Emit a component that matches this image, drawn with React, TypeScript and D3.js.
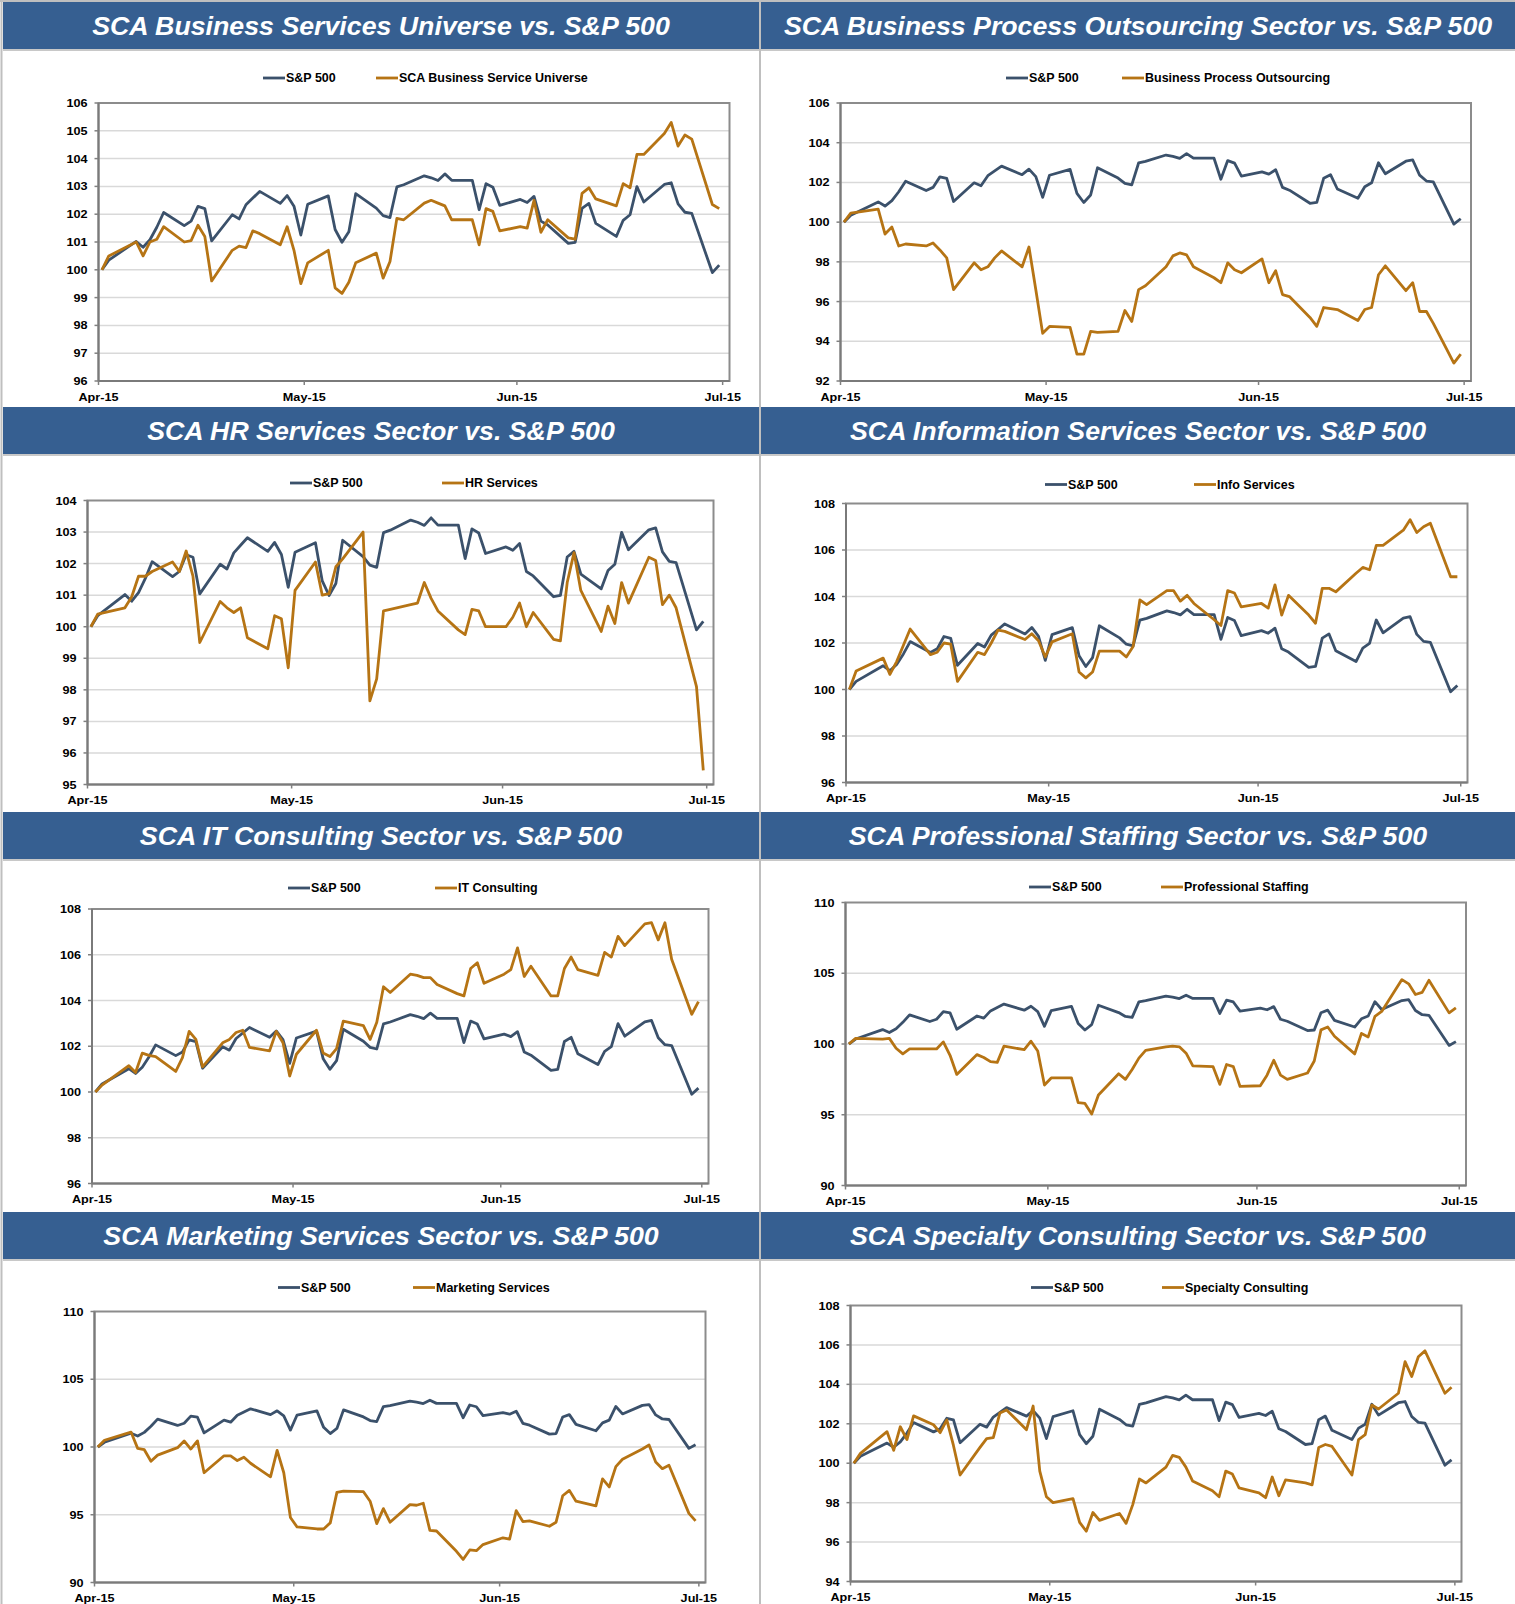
import React from 'react'
import * as d3 from 'd3'

// trading days, Q2 2015 (Memorial Day carried forward)
const DATES = [
  '2015-04-01', '2015-04-02', '2015-04-06', '2015-04-07', '2015-04-08', '2015-04-09', '2015-04-10',
  '2015-04-13', '2015-04-14', '2015-04-15', '2015-04-16', '2015-04-17', '2015-04-20', '2015-04-21', '2015-04-22',
  '2015-04-23', '2015-04-24', '2015-04-27', '2015-04-28', '2015-04-29', '2015-04-30',
  '2015-05-01', '2015-05-04', '2015-05-05', '2015-05-06', '2015-05-07', '2015-05-08', '2015-05-11', '2015-05-12',
  '2015-05-13', '2015-05-14', '2015-05-15', '2015-05-18', '2015-05-19', '2015-05-20', '2015-05-21', '2015-05-22',
  '2015-05-25', '2015-05-26', '2015-05-27', '2015-05-28', '2015-05-29',
  '2015-06-01', '2015-06-02', '2015-06-03', '2015-06-04', '2015-06-05', '2015-06-08', '2015-06-09', '2015-06-10',
  '2015-06-11', '2015-06-12', '2015-06-15', '2015-06-16', '2015-06-17', '2015-06-18', '2015-06-19', '2015-06-22',
  '2015-06-23', '2015-06-24', '2015-06-25', '2015-06-26', '2015-06-29', '2015-06-30',
]

const MONTH_TICKS = ['2015-04-01', '2015-05-01', '2015-06-01', '2015-07-01']

const SP500 = [
  100, 100.35, 101.02, 100.81, 101.08, 101.53, 102.06, 101.59, 101.75, 102.28, 102.2, 101.04, 101.98, 101.83, 102.34, 102.58, 102.82, 102.39, 102.67, 102.29, 101.25,
  102.36, 102.66, 101.45, 100.99, 101.37, 102.74, 102.22, 101.95, 101.88, 102.98, 103.06, 103.38, 103.31, 103.21, 103.45, 103.22, 103.22, 102.16, 103.1, 102.97, 102.32,
  102.53, 102.42, 102.64, 101.75, 101.61, 100.95, 100.99, 102.21, 102.39, 101.67, 101.2, 101.78, 101.98, 102.99, 102.44, 103.07, 103.13, 102.37, 102.07, 102.03, 99.9, 100.17,
]

const BUSINESS_SERVICES = [
  100, 100.5, 101.0, 100.5, 101.0, 101.1, 101.55, 101.0, 101.05, 101.6, 101.2, 99.6, 100.7, 100.85, 100.8, 101.4, 101.3, 100.9, 101.55, 100.7, 99.5,
  100.25, 100.7, 99.35, 99.15, 99.55, 100.25, 100.6, 99.7, 100.3, 101.85, 101.8, 102.4, 102.5, 102.4, 102.3, 101.8, 101.8, 100.9, 102.2, 102.1, 101.4,
  101.55, 101.5, 102.5, 101.35, 101.8, 101.15, 101.1, 102.75, 102.95, 102.55, 102.3, 103.1, 102.95, 104.15, 104.15, 104.9, 105.3, 104.45, 104.85, 104.7, 102.35, 102.2,
]

const BPO = [
  100, 100.45, 100.65, 99.4, 99.75, 98.8, 98.9, 98.8, 98.95, 98.6, 98.2, 96.6, 97.95, 97.6, 97.75, 98.2, 98.55, 97.75, 98.75, 96.6, 94.4,
  94.75, 94.7, 93.35, 93.35, 94.5, 94.45, 94.5, 95.55, 95.0, 96.6, 96.8, 97.75, 98.3, 98.45, 98.35, 97.75, 97.2, 96.95, 97.95, 97.6, 97.45,
  98.15, 96.95, 97.55, 96.35, 96.25, 95.2, 94.75, 95.7, 95.65, 95.6, 95.05, 95.6, 95.7, 97.35, 97.8, 96.55, 96.95, 95.5, 95.5, 94.9, 92.9, 93.35,
]

const HR_SERVICES = [
  100, 100.4, 100.6, 100.95, 101.6, 101.6, 101.75, 102.05, 101.75, 102.4, 101.6, 99.5, 100.8, 100.6, 100.45, 100.6, 99.65, 99.3, 100.35, 100.25, 98.7,
  101.15, 102.05, 101.0, 101.05, 101.9, 102.15, 103.0, 97.65, 98.35, 100.5, 100.55, 100.7, 100.75, 101.4, 100.9, 100.5, 99.9, 99.75, 100.55, 100.5, 100.0,
  100.0, 100.3, 100.75, 100.0, 100.45, 99.6, 99.55, 101.4, 102.35, 101.15, 99.85, 100.65, 100.1, 101.4, 100.75, 102.2, 102.1, 100.7, 101.0, 100.6, 98.1, 95.45,
]

const INFO_SERVICES = [
  100, 100.8, 101.35, 100.65, 101.2, 101.9, 102.6, 101.5, 101.6, 102.0, 101.95, 100.35, 101.6, 101.5, 102.0, 102.55, 102.5, 102.15, 102.4, 102.1, 101.4,
  102.05, 102.4, 100.75, 100.5, 100.75, 101.65, 101.65, 101.4, 101.85, 103.85, 103.65, 104.25, 104.25, 103.8, 104.05, 103.7, 103.0, 102.75, 104.25, 104.15, 103.55,
  103.7, 103.5, 104.5, 103.2, 104.05, 103.2, 102.85, 104.35, 104.35, 104.2, 105.0, 105.25, 105.15, 106.2, 106.2, 106.85, 107.3, 106.75, 107.0, 107.15, 104.85, 104.85,
]

const IT_CONSULTING = [
  100, 100.3, 101.15, 100.85, 101.7, 101.6, 101.55, 100.9, 101.5, 102.65, 102.3, 101.1, 102.15, 102.3, 102.6, 102.7, 101.95, 101.8, 102.65, 102.15, 100.7,
  101.65, 102.7, 101.7, 101.55, 101.9, 103.1, 102.9, 102.3, 103.05, 104.6, 104.35, 105.15, 105.1, 105.0, 105.0, 104.7, 104.3, 104.2, 105.4, 105.65, 104.75,
  105.15, 105.35, 106.3, 105.05, 105.5, 104.2, 104.2, 105.4, 105.9, 105.35, 105.1, 106.1, 105.9, 106.8, 106.4, 107.35, 107.4, 106.65, 107.4, 105.8, 103.4, 103.95,
]

const PRO_STAFFING = [
  100, 100.4, 100.35, 100.4, 99.7, 99.3, 99.65, 99.65, 99.65, 100.15, 99.2, 97.85, 99.25, 99.05, 98.75, 98.7, 99.85, 99.6, 100.2, 99.5, 97.1,
  97.6, 97.6, 95.85, 95.8, 95.05, 96.4, 97.9, 97.5, 98.2, 99.0, 99.55, 99.8, 99.85, 99.8, 99.35, 98.45, 98.4, 97.15, 98.55, 98.4, 97.0,
  97.05, 97.8, 98.85, 97.8, 97.5, 97.95, 98.8, 101.0, 101.2, 100.55, 99.3, 100.75, 100.5, 101.95, 102.3, 104.55, 104.25, 103.5, 103.65, 104.5, 102.2, 102.55,
]

const MARKETING = [
  100, 100.5, 101.1, 99.9, 99.8, 98.95, 99.4, 99.95, 100.45, 99.85, 100.45, 98.1, 99.35, 99.35, 99.0, 99.25, 98.8, 97.8, 99.75, 98.1, 94.8,
  94.1, 93.95, 93.95, 94.4, 96.65, 96.75, 96.7, 96.0, 94.35, 95.45, 94.45, 95.75, 95.7, 95.85, 93.85, 93.8, 92.3, 91.7, 92.4, 92.35, 92.8,
  93.3, 93.2, 95.3, 94.5, 94.55, 94.15, 94.45, 96.4, 96.8, 96.0, 95.65, 97.65, 97.05, 98.55, 99.1, 99.85, 100.15, 98.9, 98.4, 98.65, 95.1, 94.55,
]

const SPECIALTY = [
  100, 100.5, 101.6, 100.65, 101.85, 101.2, 102.4, 101.95, 101.55, 102.2, 100.9, 99.4, 100.8, 101.25, 101.3, 102.55, 102.7, 101.7, 102.9, 99.6, 98.3,
  98.0, 98.2, 97.0, 96.55, 97.5, 97.1, 97.45, 96.95, 97.9, 99.2, 99.0, 99.8, 100.4, 100.3, 99.8, 99.1, 98.6, 98.3, 99.6, 99.45, 98.75,
  98.5, 98.25, 99.3, 98.35, 99.15, 99.0, 98.9, 100.8, 100.95, 100.85, 99.4, 101.2, 101.45, 102.95, 102.75, 103.55, 105.15, 104.4, 105.4, 105.7, 103.55, 103.85,
]

const TITLES = [
  'SCA Business Services Universe vs. S&P 500',
  'SCA Business Process Outsourcing Sector vs. S&P 500',
  'SCA HR Services Sector vs. S&P 500',
  'SCA Information Services Sector vs. S&P 500',
  'SCA IT Consulting Sector vs. S&P 500',
  'SCA Professional Staffing Sector vs. S&P 500',
  'SCA Marketing Services Sector vs. S&P 500',
  'SCA Specialty Consulting Sector vs. S&P 500',
]
const SERIES_NAMES = [
  'SCA Business Service Universe', 'Business Process Outsourcing', 'HR Services', 'Info Services',
  'IT Consulting', 'Professional Staffing', 'Marketing Services', 'Specialty Consulting',
]
const SERIES = [BUSINESS_SERVICES, BPO, HR_SERVICES, INFO_SERVICES, IT_CONSULTING, PRO_STAFFING, MARKETING, SPECIALTY]
const Y_DOMAINS = [[96, 106], [92, 106], [95, 104], [96, 108], [96, 108], [90, 110], [90, 110], [94, 108]]
const Y_STEPS = [1, 2, 1, 2, 2, 5, 5, 2]

// layout (page pixels)
const W = 1515
const H = 1604
const ROW_TOPS = [2, 407, 812, 1212]
const HEADER_H = 47
const COLS = [[3, 759], [761, 1515]]
const PLOTS = [
  { l: 98.5, r: 729.5, t: 103, b: 381, ly: 78, lx: [263, 376] },
  { l: 840.5, r: 1471, t: 103, b: 381, ly: 78, lx: [1006, 1122] },
  { l: 87.5, r: 713.5, t: 500.5, b: 784.5, ly: 483, lx: [290, 442] },
  { l: 846, r: 1467.5, t: 503.5, b: 782.5, ly: 484.5, lx: [1045, 1194] },
  { l: 92, r: 708.5, t: 909, b: 1183.5, ly: 888, lx: [288, 435] },
  { l: 845.5, r: 1466, t: 902.5, b: 1185.5, ly: 887, lx: [1029, 1161] },
  { l: 94.5, r: 705.5, t: 1311.5, b: 1582.5, ly: 1287.5, lx: [278, 413] },
  { l: 850.5, r: 1461.5, t: 1305.5, b: 1581.5, ly: 1287.5, lx: [1031, 1162] },
]

const FONT = '"Liberation Sans", Arial, sans-serif'
const HEADER_BLUE = '#365f91'
const SP_COLOR = '#3b516b'
const SECTOR_COLOR = '#b67414'

const parse = d3.utcParse('%Y-%m-%d')
const dates = DATES.map(s => parse(s) as Date)
const monthTicks = MONTH_TICKS.map(s => parse(s) as Date)
const fmtMonth = d3.utcFormat('%b-%y')

// stretched text, the source rendering is a little wider than Arial
const Txt = ({ x, y, size, sx = 1, anchor = 'start', italic = false, fill = '#000', children }: any) => (
  <text
    transform={`translate(${x},${y}) scale(${sx},1)`}
    fontFamily={FONT}
    fontSize={size}
    fontWeight="bold"
    fontStyle={italic ? 'italic' : 'normal'}
    textAnchor={anchor}
    fill={fill}
  >
    {children}
  </text>
)

const Chart = ({ i }: { i: number }) => {
  const p = PLOTS[i]
  const [y0, y1] = Y_DOMAINS[i]
  const x = d3.scaleUtc()
    .domain([parse('2015-04-01') as Date, parse('2015-07-02') as Date])
    .range([p.l, p.r])
  const y = d3.scaleLinear().domain([y0, y1]).range([p.b, p.t])
  const yTicks = d3.range(y0, y1 + 0.001, Y_STEPS[i])
  const half = 12 * 3600 * 1000
  const line = d3.line<number>()
    .x((_, k) => x(new Date(dates[k].getTime() + half)))
    .y(v => y(v))

  return (
    <g>
      {yTicks.map(t => (
        <g key={t}>
          {t !== y0 && t !== y1 && (
            <line x1={p.l} x2={p.r} y1={y(t)} y2={y(t)} stroke="#d9d9d9" strokeWidth={1.5} />
          )}
          <line x1={p.l - 4} x2={p.l} y1={y(t)} y2={y(t)} stroke="#808080" strokeWidth={1.5} />
          <Txt x={p.l - 11} y={y(t) + 4} size={11} sx={1.15} anchor="end">{t}</Txt>
        </g>
      ))}
      <rect x={p.l} y={p.t} width={p.r - p.l} height={p.b - p.t} fill="none" stroke="#8c8c8c" strokeWidth={2} />
      <line x1={p.l} x2={p.l} y1={p.t} y2={p.b} stroke="#7a7a7a" strokeWidth={2} />
      <line x1={p.l} x2={p.r} y1={p.b} y2={p.b} stroke="#7a7a7a" strokeWidth={2} />
      {monthTicks.map(t => (
        <g key={t.getTime()}>
          <line x1={x(t)} x2={x(t)} y1={p.b} y2={p.b + 4} stroke="#808080" strokeWidth={1.5} />
          <Txt x={x(t)} y={p.b + 19.5} size={11} sx={1.15} anchor="middle">{fmtMonth(t)}</Txt>
        </g>
      ))}
      <path d={line(SP500) || ''} fill="none" stroke={SP_COLOR} strokeWidth={2.8} strokeLinejoin="round" />
      <path d={line(SERIES[i]) || ''} fill="none" stroke={SECTOR_COLOR} strokeWidth={2.8} strokeLinejoin="round" />
      {/* legend */}
      <line x1={p.lx[0]} x2={p.lx[0] + 22} y1={p.ly} y2={p.ly} stroke={SP_COLOR} strokeWidth={2.8} />
      <Txt x={p.lx[0] + 23} y={p.ly + 4.3} size={12} sx={1.04}>S&amp;P 500</Txt>
      <line x1={p.lx[1]} x2={p.lx[1] + 22} y1={p.ly} y2={p.ly} stroke={SECTOR_COLOR} strokeWidth={2.8} />
      <Txt x={p.lx[1] + 23} y={p.ly + 4.3} size={12} sx={1.04}>{SERIES_NAMES[i]}</Txt>
    </g>
  )
}

export default function App() {
  return (
    <svg
      width={W}
      height={H}
      style={{ position: 'absolute', left: 0, top: 0, display: 'block', background: '#fff' }}
    >
      <rect x={0} y={0} width={W} height={H} fill="#fff" />
      {/* page frame and column divider */}
      <line x1={0} x2={W} y1={1} y2={1} stroke="#bfbfbf" strokeWidth={2} />
      <line x1={1.5} x2={1.5} y1={0} y2={H} stroke="#bfbfbf" strokeWidth={2} />
      <line x1={760} x2={760} y1={0} y2={H} stroke="#bfbfbf" strokeWidth={2} />
      {ROW_TOPS.map((top, r) =>
        COLS.map(([a, b], c) => {
          const idx = r * 2 + c
          return (
            <g key={idx}>
              <rect x={a} y={top} width={b - a} height={HEADER_H} fill={HEADER_BLUE} />
              <line x1={a} x2={b} y1={top + HEADER_H + 1} y2={top + HEADER_H + 1} stroke="#c8c8c8" strokeWidth={2} />
              <Txt x={(a + b) / 2} y={top + 32.5} size={25} sx={1.07} anchor="middle" italic fill="#fff">
                {TITLES[idx]}
              </Txt>
            </g>
          )
        })
      )}
      {PLOTS.map((_, i) => <Chart key={i} i={i} />)}
    </svg>
  )
}
